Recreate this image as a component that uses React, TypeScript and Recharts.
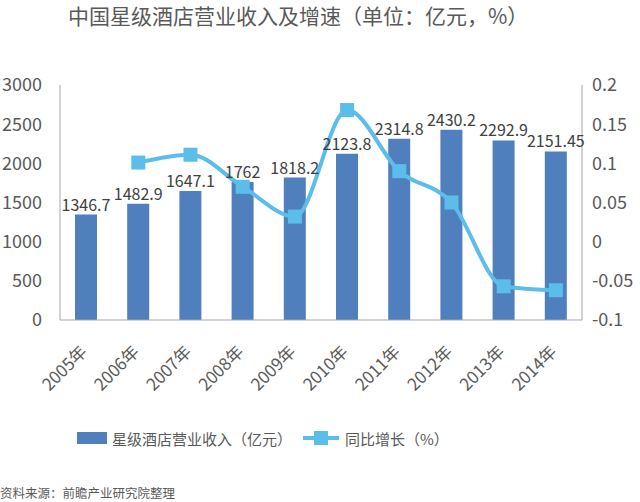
import {
  Bar,
  ComposedChart,
  LabelList,
  Line,
  XAxis,
  YAxis,
} from "recharts";

const years = ["2005年", "2006年", "2007年", "2008年", "2009年", "2010年", "2011年", "2012年", "2013年", "2014年"];
const revenue = [1346.7, 1482.9, 1647.1, 1762, 1818.2, 2123.8, 2314.8, 2430.2, 2292.9, 2151.45];
const growth: (number | null)[] = [null, 0.101, 0.111, 0.07, 0.032, 0.168, 0.09, 0.05, -0.057, -0.062];
const leftTicks = [0, 500, 1000, 1500, 2000, 2500, 3000];
const rightTicks = [-0.1, -0.05, 0, 0.05, 0.1, 0.15, 0.2];

const FONT = '"Noto Sans CJK SC", "Noto Sans", sans-serif';
const TEXT = "#595959";
const BAR = "#4f7fbd";
const LINE = "#5bbdea";

const data = years.map((y, i) => ({ year: y, revenue: revenue[i], growth: growth[i] }));

interface TickProps {
  x?: number;
  y?: number;
  payload?: { value: string };
}

// rotated year labels, text ends just under the bar
const YearTick = ({ x = 0, y = 0, payload }: TickProps) => (
  <text
    x={x + 2}
    y={y + 25}
    transform={`rotate(-45 ${x + 2} ${y + 25})`}
    textAnchor="end"
    fill={TEXT}
    fontSize={17}
    fontFamily={FONT}
  >
    {payload?.value}
  </text>
);

const Marker = ({ cx, cy }: { cx?: number; cy?: number }) =>
  cx == null || cy == null ? null : (
    <rect x={cx - 7} y={cy - 7} width={14} height={14} fill={LINE} />
  );

export default function App() {
  return (
    <div
      style={{
        position: "absolute",
        left: 0,
        top: 0,
        width: 640,
        height: 502,
        background: "#fff",
        fontFamily: FONT,
        color: TEXT,
        overflow: "hidden",
      }}
    >
      <div style={{ position: "absolute", left: 68, top: 3, fontSize: 21, lineHeight: "24px", whiteSpace: "nowrap" }}>
        中国星级酒店营业收入及增速（单位：亿元，%）
      </div>
      <ComposedChart
        width={640}
        height={502}
        data={data}
        margin={{ top: 85, right: 0, bottom: 102, left: 0 }}
        barCategoryGap={0}
      >
        <XAxis
          dataKey="year"
          height={80}
          interval={0}
          tick={<YearTick />}
          tickLine={false}
          axisLine={{ stroke: "#a6a6a6" }}
        />
        <YAxis
          yAxisId="left"
          width={60}
          domain={[0, 3000]}
          ticks={leftTicks}
          interval={0}
          tickLine={false}
          tickMargin={12}
          axisLine={{ stroke: "#a6a6a6" }}
          tick={{ fill: TEXT, fontSize: 18, fontFamily: FONT }}
        />
        <YAxis
          yAxisId="right"
          orientation="right"
          width={58}
          domain={[-0.1, 0.2]}
          ticks={rightTicks}
          interval={0}
          tickLine={false}
          tickMargin={4}
          axisLine={{ stroke: "#a6a6a6" }}
          tick={{ fill: TEXT, fontSize: 18, fontFamily: FONT }}
        />
        <Bar yAxisId="left" dataKey="revenue" fill={BAR} barSize={22} isAnimationActive={false}>
          <LabelList
            dataKey="revenue"
            position="top"
            offset={4}
            fill="#404040"
            fontSize={16}
            fontFamily={FONT}
          />
        </Bar>
        <Line
          yAxisId="right"
          dataKey="growth"
          type="monotone"
          stroke={LINE}
          strokeWidth={4}
          dot={<Marker />}
          activeDot={false}
          connectNulls
          isAnimationActive={false}
        />
      </ComposedChart>
      {/* legend */}
      <div style={{ position: "absolute", left: 77, top: 428, height: 20, display: "flex", alignItems: "center", fontSize: 15, whiteSpace: "nowrap" }}>
        <span style={{ display: "inline-block", width: 30, height: 12, background: BAR, marginRight: 5 }} />
        <span>星级酒店营业收入（亿元）</span>
      </div>
      <div style={{ position: "absolute", left: 303, top: 428, height: 20, display: "flex", alignItems: "center", fontSize: 15, whiteSpace: "nowrap" }}>
        <span style={{ position: "relative", display: "inline-block", width: 36, height: 14, marginRight: 6 }}>
          <span style={{ position: "absolute", left: 0, top: 5, width: 36, height: 4, background: LINE }} />
          <span style={{ position: "absolute", left: 11, top: 0, width: 14, height: 14, background: LINE }} />
        </span>
        <span>同比增长（%）</span>
      </div>
      <div style={{ position: "absolute", left: 0, top: 484, fontSize: 12.5, lineHeight: "18px", whiteSpace: "nowrap" }}>
        资料来源：前瞻产业研究院整理
      </div>
    </div>
  );
}
